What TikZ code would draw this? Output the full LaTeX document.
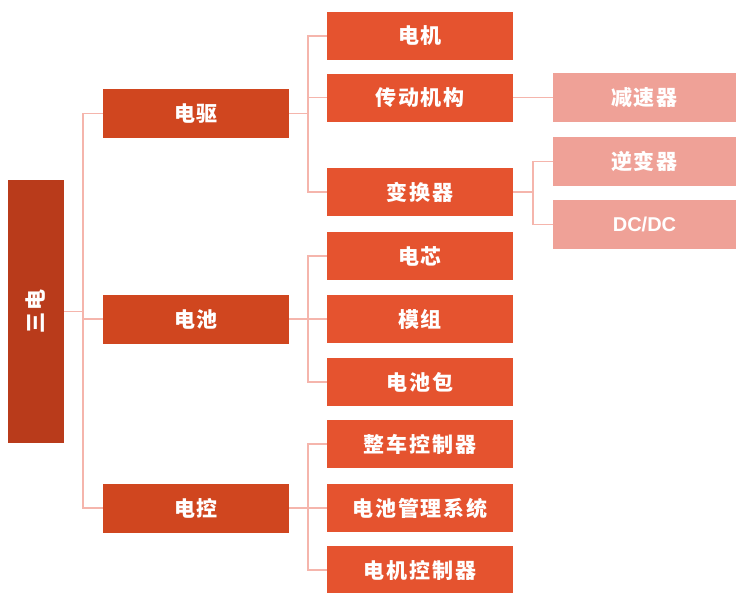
\documentclass[tikz,border=0pt]{standalone}
\usepackage{fontspec}
\setmainfont{Noto Sans CJK SC}
\newfontfamily\boxfont{Noto Sans CJK SC}[LetterSpace=9]
\newfontfamily\latfont{Liberation Sans}
\definecolor{rootc}{HTML}{B93B1B}
\definecolor{lonec}{HTML}{D0461F}
\definecolor{ltwoc}{HTML}{E5532F}
\definecolor{lthreec}{HTML}{EFA197}
\definecolor{linkc}{HTML}{F5B5AC}
\begin{document}
\begin{tikzpicture}[x=1pt,y=-1pt,
  box/.style={draw=none,text=white,font=\boxfont\bfseries\fontsize{21}{23}\selectfont,inner sep=0pt,anchor=center},
  rootbox/.style={box,fill=rootc,minimum width=56pt,minimum height=263pt},
  onebox/.style={box,fill=lonec,minimum width=186pt,minimum height=49pt},
  twobox/.style={box,fill=ltwoc,minimum width=186pt,minimum height=48pt},
  threebox/.style={box,fill=lthreec,minimum width=183pt,minimum height=49pt},
  link/.style={draw=linkc,line width=1.6pt}]
\useasboundingbox (0,0) rectangle (736,592);
\node[rootbox] (root) at (36,311.5) {\rotatebox{90}{三电}};
\node[onebox] (qu) at (196,113.5) {电驱};
\node[onebox] (chi) at (196,319) {电池};
\node[onebox] (kong) at (196,508) {电控};
\node[twobox] (dj) at (420,36) {电机};
\node[twobox] (cd) at (420,97.5) {传动机构};
\node[twobox] (bh) at (420,192) {变换器};
\node[twobox] (dx) at (420,256) {电芯};
\node[twobox] (mz) at (420,319) {模组};
\node[twobox] (dcb) at (420,382) {电池包};
\node[twobox] (zc) at (420,444) {整车控制器};
\node[twobox] (gl) at (420,508) {电池管理系统};
\node[twobox] (kz) at (420,570) {电机控制器};
\node[threebox] (js) at (644.5,97.5) {减速器};
\node[threebox] (nb) at (644.5,161.5) {逆变器};
\node[threebox] (dc) at (644.5,224.5) {\latfont\bfseries\fontsize{20}{22}\selectfont DC/DC};
\foreach \t in {qu,chi,kong} \draw[link] (root.east) -- ++(19,0) |- (\t.west);
\foreach \t in {dj,cd,bh} \draw[link] (qu.east) -- ++(19,0) |- (\t.west);
\foreach \t in {dx,mz,dcb} \draw[link] (chi.east) -- ++(19,0) |- (\t.west);
\foreach \t in {zc,gl,kz} \draw[link] (kong.east) -- ++(19,0) |- (\t.west);
\draw[link] (cd.east) -- (js.west);
\foreach \t in {nb,dc} \draw[link] (bh.east) -- ++(20,0) |- (\t.west);
\end{tikzpicture}
\end{document}
